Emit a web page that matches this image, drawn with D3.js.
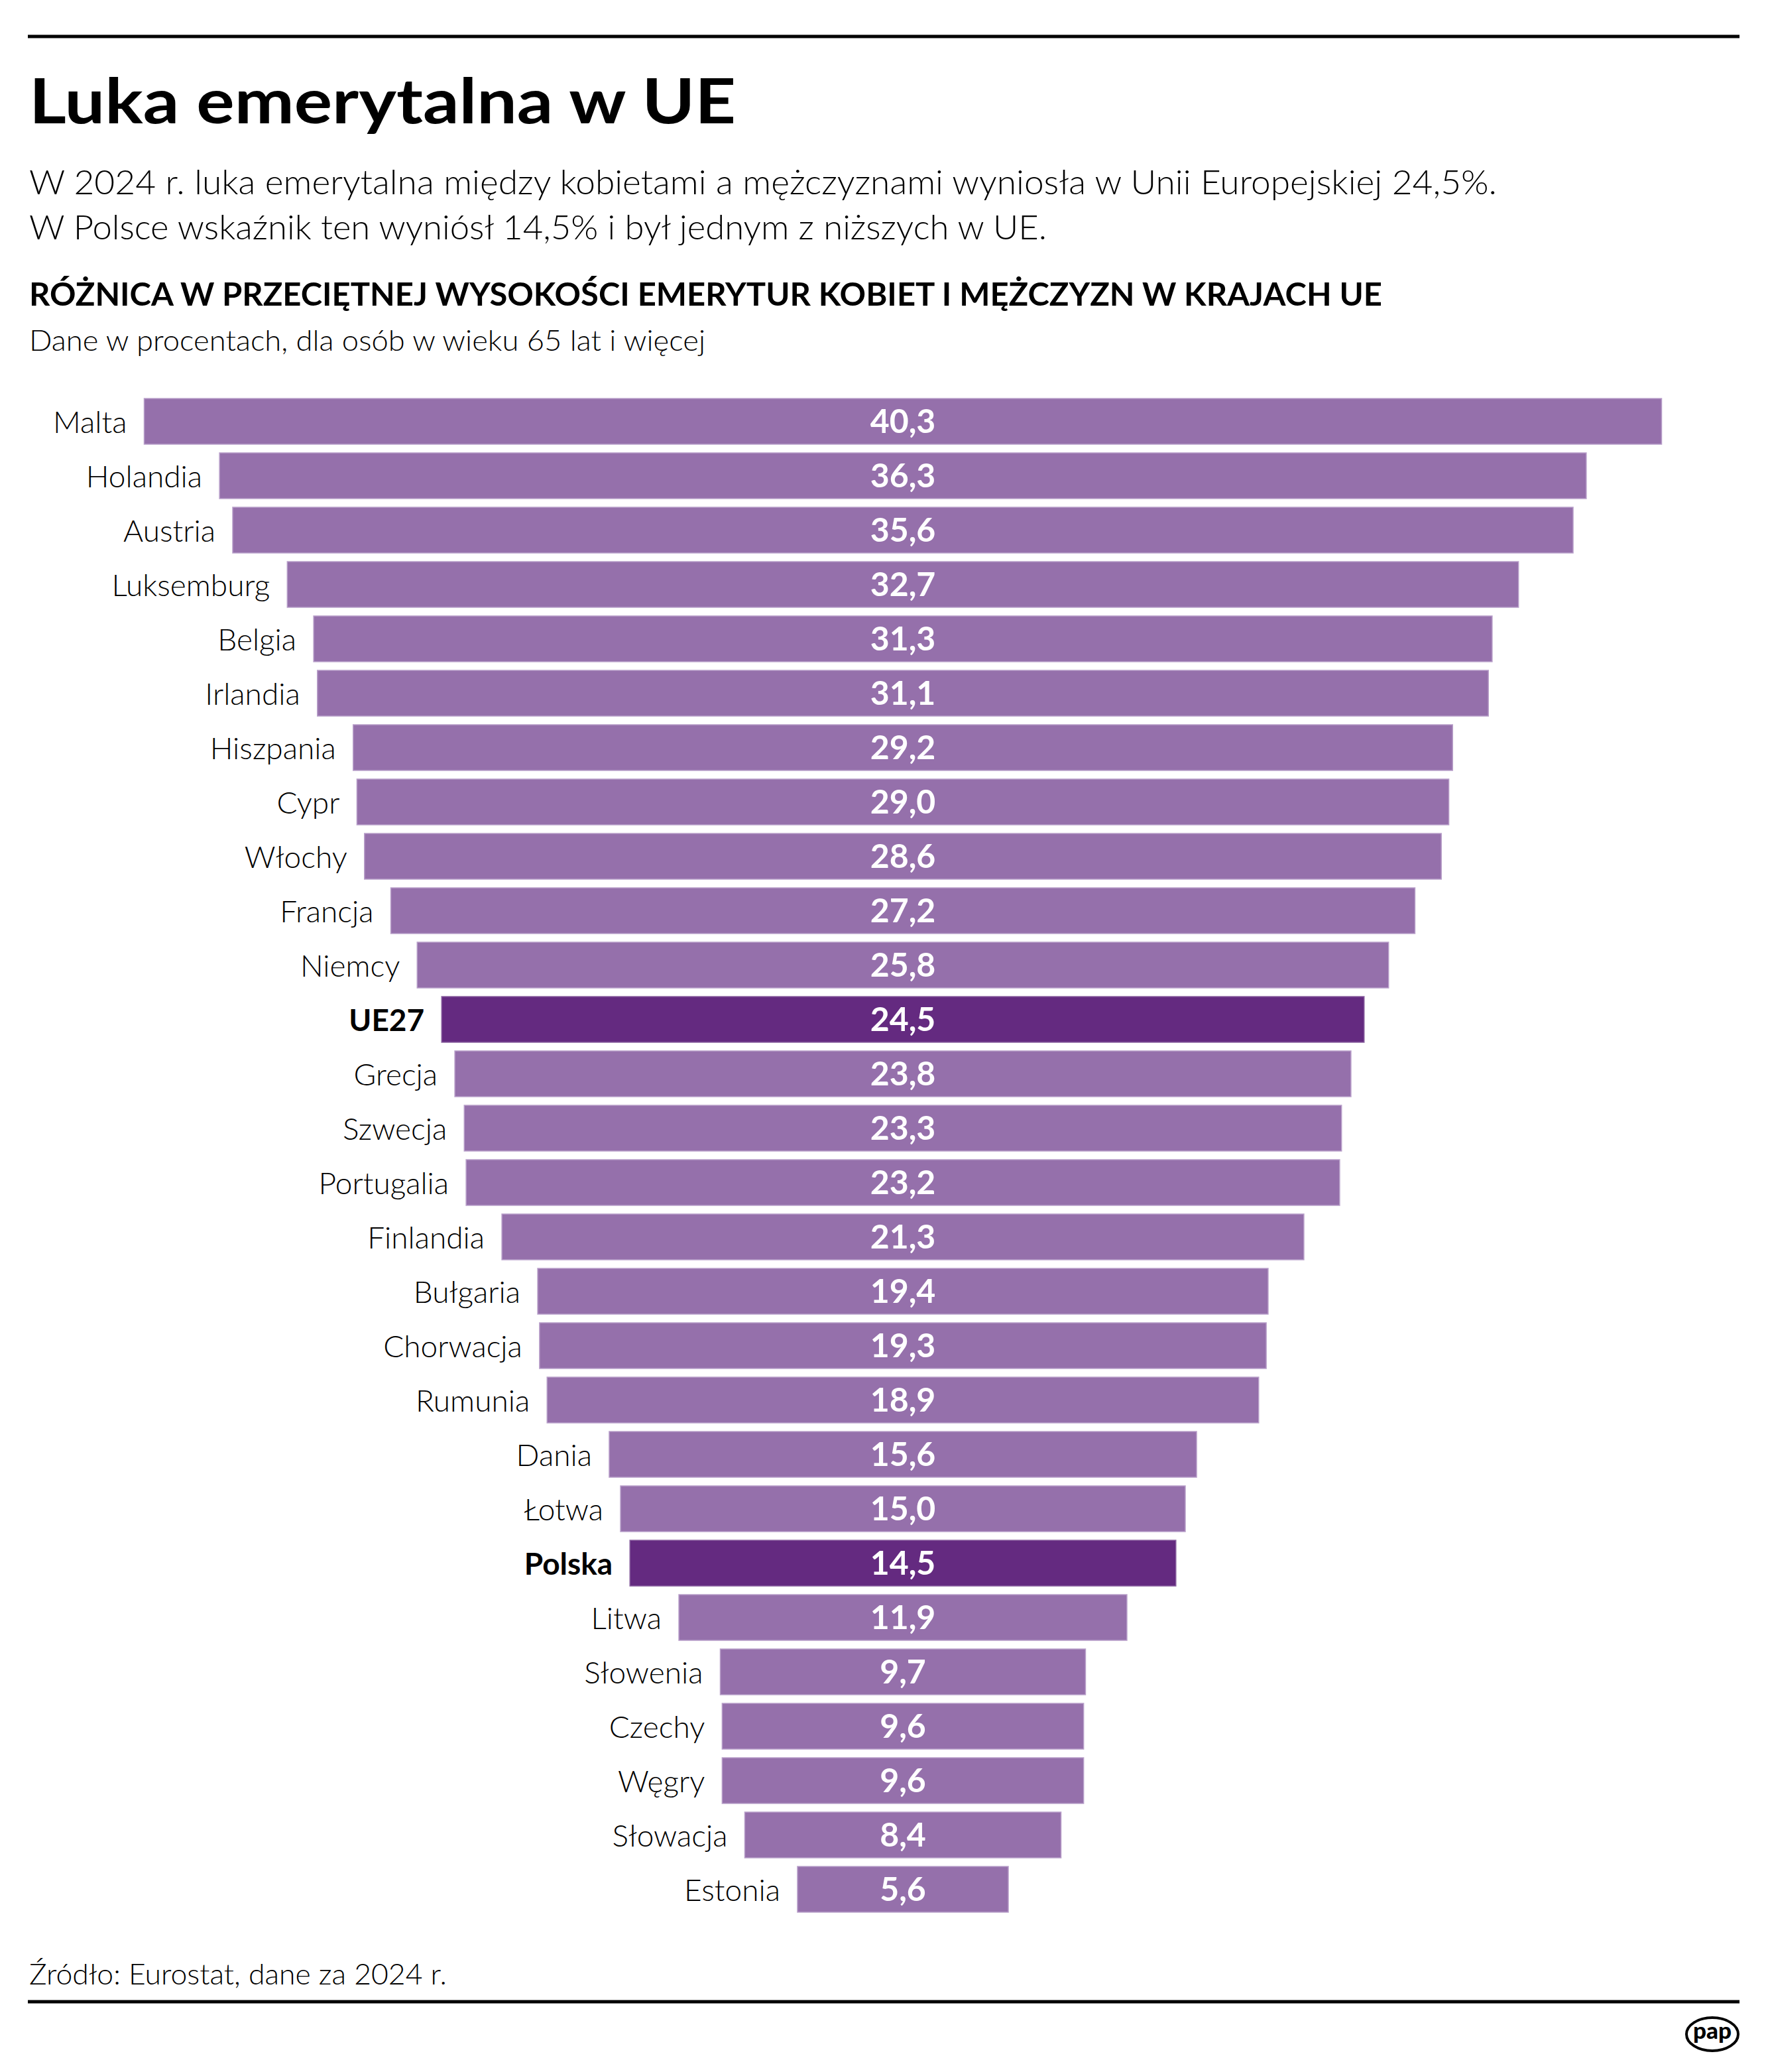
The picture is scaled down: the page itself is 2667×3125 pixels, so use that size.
<!DOCTYPE html>
<html>
  <head>
    <meta charset="UTF-8">
    <style>
      body {
        margin: 0;
        background: #ffffff;
        font-family: Lato, "Noto Sans", sans-serif;
      }
      .light { font-weight: 300; }
      .bold { font-weight: 700; }
    </style>
    <script src="https://d3js.org/d3.v7.min.js"></script>
  </head>

  <body>
    <svg id="chart"></svg>

    <script type="text/javascript">
      // data
      let countries = ['Malta', 'Holandia', 'Austria', 'Luksemburg', 'Belgia', 'Irlandia', 'Hiszpania', 'Cypr',
        'Włochy', 'Francja', 'Niemcy', 'UE27', 'Grecja', 'Szwecja', 'Portugalia', 'Finlandia', 'Bułgaria',
        'Chorwacja', 'Rumunia', 'Dania', 'Łotwa', 'Polska', 'Litwa', 'Słowenia', 'Czechy', 'Węgry', 'Słowacja', 'Estonia']
      let values = [40.3, 36.3, 35.6, 32.7, 31.3, 31.1, 29.2, 29.0, 28.6, 27.2, 25.8, 24.5, 23.8, 23.3, 23.2, 21.3,
        19.4, 19.3, 18.9, 15.6, 15.0, 14.5, 11.9, 9.7, 9.6, 9.6, 8.4, 5.6]
      let highlighted = ['UE27', 'Polska']

      let title = 'Luka emerytalna w UE'
      let intro = [
        'W 2024 r. luka emerytalna między kobietami a mężczyznami wyniosła w Unii Europejskiej 24,5%.',
        'W Polsce wskaźnik ten wyniósł 14,5% i był jednym z niższych w UE.'
      ]
      let heading = 'RÓŻNICA W PRZECIĘTNEJ WYSOKOŚCI EMERYTUR KOBIET I MĘŻCZYZN W KRAJACH UE'
      let note = 'Dane w procentach, dla osób w wieku 65 lat i więcej'
      let source = 'Źródło: Eurostat, dane za 2024 r.'

      let data = countries.map((c, i) => ({country: c, value: values[i]}))

      let width = 2667
      let height = 3125
      let left = 42
      let right = 2624
      let barColor = '#9570ab'
      let highlightColor = '#642a80'
      let centerX = 1362

      let svg = d3.select('#chart')
        .attr('width', width)
        .attr('height', height)

      svg.append('rect')
        .attr('width', width)
        .attr('height', height)
        .attr('fill', '#ffffff')

      // top and bottom rules
      svg.append('line')
        .attr('x1', left).attr('x2', right)
        .attr('y1', 55).attr('y2', 55)
        .attr('stroke', '#000').attr('stroke-width', 5)

      svg.append('line')
        .attr('x1', left).attr('x2', right)
        .attr('y1', 3019).attr('y2', 3019)
        .attr('stroke', '#000').attr('stroke-width', 5)

      // header texts, stretched to the widths seen in the reference
      function addText(txt, x, y, size, cls, len) {
        let t = svg.append('text')
          .attr('x', x)
          .attr('y', y)
          .attr('class', cls)
          .attr('font-size', size)
          .attr('fill', '#000')
          .text(txt)
        if (len) {
          t.attr('textLength', len).attr('lengthAdjust', 'spacingAndGlyphs')
        }
        return t
      }

      addText(title, 44, 186, 94, 'bold', 1066).attr('font-weight', 900)
      addText(intro[0], 44, 293, 52, 'light', 2214)
      addText(intro[1], 44, 361, 52, 'light', 1535)
      addText(heading, 44, 461, 48, 'bold', 2041)
      addText(note, 44, 529, 44, 'light', 1020)
      addText(source, 44, 2993, 44, 'light', 630)

      // scales
      let y = d3.scaleBand()
        .domain(countries)
        .range([601, 2884])
        .paddingInner(13 / 82)
        .paddingOuter(0)

      let x = d3.scaleLinear()
        .domain([0, 40.3])
        .range([0, 2289])

      let rows = svg.append('g')
        .selectAll('g')
        .data(data)
        .join('g')
        .attr('transform', d => `translate(0, ${y(d.country)})`)

      rows.append('rect')
        .attr('x', d => centerX - x(d.value) / 2)
        .attr('width', d => x(d.value))
        .attr('height', y.bandwidth())
        .attr('fill', d => highlighted.includes(d.country) ? highlightColor : barColor)
        .attr('stroke', d => highlighted.includes(d.country) ? '#8a62a0' : '#b9a0ca')
        .attr('stroke-width', 1.5)

      rows.append('text')
        .attr('x', centerX)
        .attr('y', y.bandwidth() / 2 + 17)
        .attr('text-anchor', 'middle')
        .attr('font-size', 50)
        .attr('font-weight', 700)
        .attr('fill', '#fff')
        .text(d => d3.format('.1f')(d.value).replace('.', ','))

      rows.append('text')
        .attr('x', d => centerX - x(d.value) / 2 - 26)
        .attr('y', y.bandwidth() / 2 + 17)
        .attr('text-anchor', 'end')
        .attr('font-size', 46)
        .attr('font-weight', d => highlighted.includes(d.country) ? 700 : 300)
        .attr('fill', '#000')
        .text(d => d.country)

      // pap logo
      let logo = svg.append('g')
        .attr('transform', 'translate(2583, 3068)')

      logo.append('ellipse')
        .attr('rx', 39)
        .attr('ry', 25)
        .attr('fill', '#fff')
        .attr('stroke', '#000')
        .attr('stroke-width', 4)

      logo.append('text')
        .attr('y', 7)
        .attr('text-anchor', 'middle')
        .attr('font-size', 34)
        .attr('font-weight', 900)
        .attr('textLength', 58)
        .attr('lengthAdjust', 'spacingAndGlyphs')
        .text('pap')
    </script>
  </body>
</html>
